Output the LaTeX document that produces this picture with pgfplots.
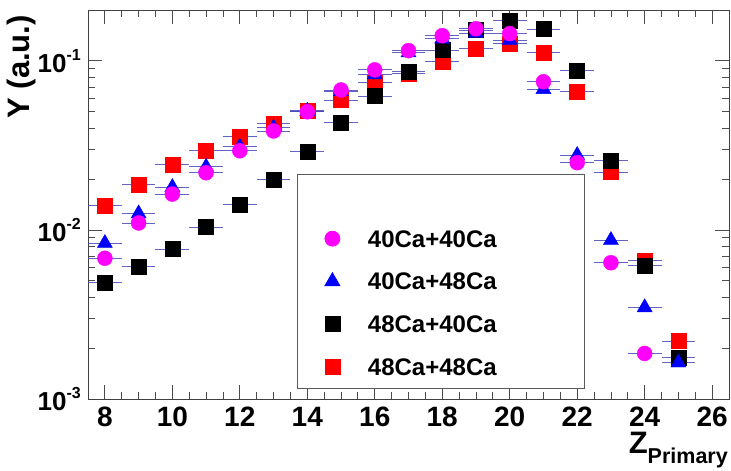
\documentclass[border=0pt]{standalone}
\usepackage{pgfplots}
\pgfplotsset{compat=1.18}
\usepackage{fontspec}
\setmainfont{Liberation Sans}
\usetikzlibrary{calc}
\definecolor{barcol}{RGB}{70,70,185}
\definecolor{mag}{rgb}{1,0,1}
\definecolor{bl}{rgb}{0,0,1}
\definecolor{rd}{rgb}{1,0,0}
\pgfplotsset{
  ebars/.style={error bars/.cd, x dir=both, x fixed=0.5, error mark=none,
    error bar style={barcol, line width=0.9pt, opacity=0.85}},
}
\begin{document}
\begin{tikzpicture}
\begin{axis}[name=ax, scale only axis, width=641pt, height=389pt,
  ymode=log, xmin=7.5, xmax=26.5, ymin=0.001, ymax=0.2,
  xtick={8,10,...,26}, minor x tick num=3,
  /pgf/number format/assume math mode=true,
  ytick={0.001,0.01,0.1},
  yticklabels={10\raisebox{11.5pt}{\fontsize{16}{16}\selectfont -3},
               10\raisebox{11.5pt}{\fontsize{16}{16}\selectfont -2},
               10\raisebox{11.5pt}{\fontsize{16}{16}\selectfont -1}},
  minor ytick={0.002,0.003,0.004,0.005,0.006,0.007,0.008,0.009,0.02,0.03,0.04,0.05,0.06,0.07,0.08,0.09},
  tick align=inside,
  major tick length=14pt, minor tick length=7pt,
  axis line style={black!75, line width=0.8pt},
  tick style={black!70, line width=0.8pt},
  xticklabel style={font=\bfseries\fontsize{28}{28}\selectfont, inner sep=0pt, yshift=-8pt},
  yticklabel style={font=\bfseries\fontsize{26}{26}\selectfont, inner sep=0pt, xshift=-7pt},
  xlabel={Z\raisebox{-10pt}{\fontsize{21.5}{21.5}\selectfont Primary}},
  xlabel style={font=\bfseries\fontsize{31}{31}\selectfont, at={(rel axis cs:1,0)}, anchor=base east, inner sep=0pt, yshift=-54.5pt, xshift=-1pt},
  ylabel={Y (a.u.)},
  ylabel style={font=\bfseries\fontsize{31}{31}\selectfont, at={(rel axis cs:0,1)}, anchor=base east, inner sep=0pt, xshift=-5pt, yshift=58pt},
  legend cell align=left,
  legend style={at={(rel axis cs:0.326,0.578)}, anchor=north west, draw=black!65, line width=0.8pt,
    font=\bfseries\fontsize{24}{24}\selectfont,
    nodes={inner sep=0pt, text height=17pt, text depth=0pt},
    column sep=28pt, row sep=25.6pt, inner xsep=26.5pt, inner ysep=13pt},
]
\addlegendimage{empty legend}\addlegendentry{}
\addlegendimage{only marks, mark=*, mark size=7.5pt, color=mag}
\addlegendentry{\makebox[190pt][l]{40Ca+40Ca}}
\addlegendimage{only marks, mark=triangle*, mark size=8.7pt, color=bl}
\addlegendentry{40Ca+48Ca}
\addlegendimage{only marks, mark=square*, mark size=7.5pt, color=black}
\addlegendentry{48Ca+40Ca}
\addlegendimage{only marks, mark=square*, mark size=7.5pt, color=rd}
\addlegendentry{48Ca+48Ca}

% 48Ca+48Ca
\addplot[only marks, mark=square*, mark size=7.5pt, color=rd, forget plot, ebars] coordinates {
(8,0.0139) (9,0.0185) (10,0.0244) (11,0.0294) (12,0.0356) (13,0.0427) (14,0.0506)
(15,0.0587) (16,0.0743) (17,0.0845) (18,0.0990) (19,0.118) (20,0.127) (21,0.112)
(22,0.0658) (23,0.0220) (24,0.0066) (25,0.0022)};
% 48Ca+40Ca
\addplot[only marks, mark=square*, mark size=7.5pt, color=black, forget plot, ebars] coordinates {
(8,0.0049) (9,0.0061) (10,0.0077) (11,0.0104) (12,0.0142) (13,0.0199) (14,0.0292)
(15,0.0430) (16,0.0620) (17,0.0865) (18,0.116) (19,0.152) (20,0.173) (21,0.154)
(22,0.0873) (23,0.0258) (24,0.00618) (25,0.00175)};
% 40Ca+48Ca
\addplot[only marks, mark=triangle*, mark size=8.7pt, color=bl, forget plot, ebars] coordinates {
(8,0.00835) (9,0.0125) (10,0.0179) (11,0.0236) (12,0.0310) (13,0.0402) (14,0.0505)
(15,0.066) (16,0.083) (17,0.112) (18,0.135) (19,0.146) (20,0.133) (21,0.068)
(22,0.0277) (23,0.0087) (24,0.00348) (25,0.00164)};
% 40Ca+40Ca
\addplot[only marks, mark=*, mark size=7.5pt, color=mag, forget plot, ebars] coordinates {
(8,0.0068) (9,0.0110) (10,0.0163) (11,0.0218) (12,0.0294) (13,0.0385) (14,0.0500)
(15,0.0673) (16,0.0885) (17,0.115) (18,0.141) (19,0.155) (20,0.145) (21,0.0753)
(22,0.0250) (23,0.0064) (24,0.00186)};
\end{axis}
\pgfresetboundingbox
\path ($(ax.south west)+(-88pt,-71pt)$) rectangle ($(ax.north east)+(2pt,10pt)$);
\end{tikzpicture}
\end{document}
